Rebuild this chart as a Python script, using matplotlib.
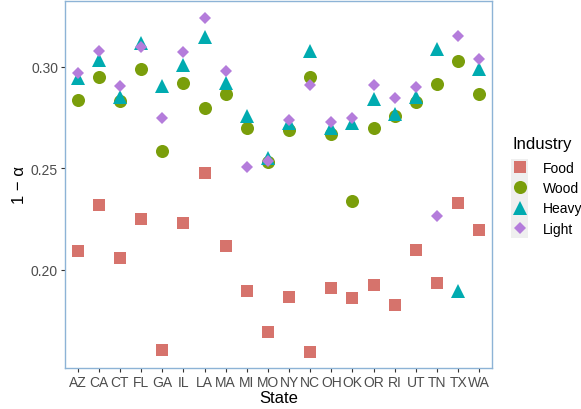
import matplotlib
matplotlib.use("Agg")
import matplotlib.pyplot as plt
from matplotlib.patches import Rectangle

plt.rcParams['font.family'] = ['Liberation Sans', 'DejaVu Sans']

states = ["AZ", "CA", "CT", "FL", "GA", "IL", "LA", "MA", "MI", "MO",
          "NY", "NC", "OH", "OK", "OR", "RI", "UT", "TN", "TX", "WA"]

food = [0.2095, 0.2318, 0.2057, 0.2249, 0.1607, 0.2230, 0.2477, 0.2116, 0.1895, 0.1693,
        0.1866, 0.1595, 0.1910, 0.1861, 0.1926, 0.1828, 0.2097, 0.1934, 0.2328, 0.2195]
wood = [0.2839, 0.2951, 0.2830, 0.2990, 0.2587, 0.2921, 0.2798, 0.2869, 0.2698, 0.2530,
        0.2689, 0.2951, 0.2669, 0.2341, 0.2698, 0.2756, 0.2828, 0.2918, 0.3030, 0.2869]
heavy = [0.2945, 0.3033, 0.2854, 0.3116, 0.2907, 0.3010, 0.3148, 0.2923, 0.2756, 0.2549,
         0.2726, 0.3079, 0.2697, 0.2723, 0.2841, 0.2770, 0.2852, 0.3087, 0.1898, 0.2989]
light = [0.2970, 0.3079, 0.2908, 0.3100, 0.2749, 0.3074, 0.3241, 0.2980, 0.2508, 0.2538,
         0.2739, 0.2910, 0.2731, 0.2748, 0.2910, 0.2849, 0.2900, 0.2267, 0.3151, 0.3041]

series = [("Food", food, "s", "#D6736C", 8.6),
          ("Wood", wood, "o", "#7A9E0B", 9.4),
          ("Heavy", heavy, "^", "#00ABB0", 10.0),
          ("Light", light, "D", "#B47CDB", 6.3)]

yticks = [0.20, 0.25, 0.30]
ytick_labels = ["0.20", "0.25", "0.30"]

W, H = 581, 410
fig = plt.figure(figsize=(W / 100, H / 100), dpi=100)
ax = fig.add_axes([65/W, 41/H, (492-65)/W, (369-2)/H])

handles = []
for name, vals, mk, col, ms in series:
    h, = ax.plot(states, vals, linestyle="none", marker=mk, color=col,
                 markersize=ms, markeredgewidth=0, label=name)
    handles.append(h)

ax.set_xlim(-0.6, len(states) - 0.4)
ax.set_ylim(0.1516, 0.3325)
ax.set_yticks(yticks)
ax.set_yticklabels(ytick_labels)

for sp in ax.spines.values():
    sp.set_color("#8DB3D6")
    sp.set_linewidth(1.0)

ax.tick_params(axis="both", direction="out", length=3, width=0.8,
               color="#333333", labelcolor="#4D4D4D", labelsize=10, pad=2)

ax.set_xlabel("State", fontsize=12, color="black", labelpad=1)
ax.set_ylabel("1 \u2212 \u03b1", fontsize=12, color="black", labelpad=3)

# legend key background
fig.patches.append(Rectangle((511/W, (H-239)/H), 17/W, 79/H,
                             transform=fig.transFigure, facecolor="#EFEFEF",
                             edgecolor="none", zorder=0))

fig.text(512/W, (H-145)/H, "Industry", fontsize=12, ha="left", va="center")

leg = fig.legend(handles=handles, loc="upper left",
                 bbox_to_anchor=(513/W, (H-162)/H), frameon=False,
                 fontsize=10, handlelength=1.0, handletextpad=1.12,
                 labelspacing=0.45, borderaxespad=0, borderpad=0,
                 markerscale=1.0)

fig.savefig("out.png", dpi=100)
